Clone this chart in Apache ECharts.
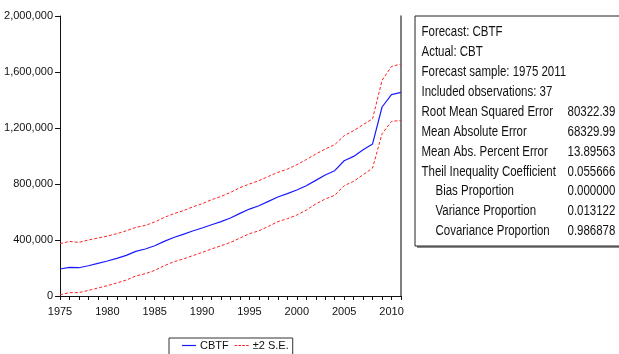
<!DOCTYPE html>
<html>
<head>
<meta charset="utf-8">
<script src="https://cdn.jsdelivr.net/npm/echarts@6/dist/echarts.min.js"></script>
<style>
  html, body { margin: 0; padding: 0; background: #fff; }
  #chart { width: 619px; height: 354px; }
</style>
</head>
<body>
<div id="chart"></div>
<script>
// Forecast of CBT (CBTF) with a +/- 2 standard error band, 1975-2011
const years = ['1975','1976','1977','1978','1979','1980','1981','1982','1983','1984',
  '1985','1986','1987','1988','1989','1990','1991','1992','1993','1994',
  '1995','1996','1997','1998','1999','2000','2001','2002','2003','2004',
  '2005','2006','2007','2008','2009','2010','2011'];

const cbtf = [193000, 204000, 202000, 216000, 233000, 250000, 269000, 290000, 319000, 336000,
  359000, 390000, 418000, 440000, 464000, 486000, 509000, 531000, 557000, 590000,
  621000, 645000, 676000, 707000, 731000, 757000, 788000, 826000, 864000, 895000,
  966000, 997000, 1045000, 1086000, 1350000, 1438000, 1455000];

const upperBand = [374000, 390000, 383000, 400000, 414000, 428000, 445000, 466000, 490000, 504000,
  529000, 561000, 588000, 609000, 636000, 659000, 688000, 711000, 740000, 774000,
  800000, 824000, 854000, 883000, 906000, 938000, 974000, 1014000, 1050000, 1081000,
  1145000, 1181000, 1224000, 1266000, 1540000, 1640000, 1657000];

const lowerBand = [9000, 24000, 24000, 40000, 57000, 74000, 93000, 114000, 143000, 159000,
  183000, 216000, 244000, 264000, 288000, 311000, 336000, 359000, 383000, 414000,
  445000, 466000, 497000, 531000, 552000, 578000, 614000, 657000, 693000, 719000,
  788000, 819000, 866000, 914000, 1159000, 1247000, 1254000];

// Forecast evaluation statistics
const statHeader = ['Forecast: CBTF', 'Actual: CBT', 'Forecast sample: 1975 2011', 'Included observations: 37'];
const statNames = ['Root Mean Squared Error', 'Mean Absolute Error', 'Mean Abs. Percent Error',
  'Theil Inequality Coefficient', 'Bias Proportion', 'Variance Proportion', 'Covariance Proportion'];
const statValues = ['80322.39', '68329.99', '13.89563', '0.055666', '0.000000', '0.013122', '0.986878'];
const statIndent = [false, false, false, false, true, true, true];

const FONT = '"Liberation Sans", Arial, sans-serif';
const NARROW = 0.82; // horizontal squeeze for the condensed panel text

function thousands(v) {
  return String(v).replace(/\B(?=(\d{3})+(?!\d))/g, ',');
}

// Statistics panel drawn as graphic elements
const panelLeft = 415, panelTop = 16, panelHeight = 230, panelWidth = 215;
const rowStart = 32, rowStep = 19.95;
const panelChildren = [
  { type: 'rect', shape: { x: panelLeft + 2, y: panelTop + 2, width: panelWidth, height: panelHeight },
    style: { fill: '#8a8a8a' }, silent: true },
  { type: 'rect', shape: { x: panelLeft, y: panelTop, width: panelWidth, height: panelHeight },
    style: { fill: '#fff', stroke: '#222', lineWidth: 1 }, silent: true }
];
const rows = [];
statHeader.forEach(t => rows.push({ name: t, value: '', indent: false }));
statNames.forEach((t, i) => rows.push({ name: t, value: statValues[i], indent: statIndent[i] }));

function panelText(str, x, y) {
  return {
    type: 'text', x: x, y: y, scaleX: NARROW, originX: 0, originY: 0,
    style: { text: str, fill: '#111', font: '14px ' + FONT, verticalAlign: 'middle', align: 'left' },
    silent: true
  };
}
rows.forEach((r, i) => {
  const y = rowStart + i * rowStep;
  panelChildren.push(panelText(r.name, r.indent ? 435.5 : 421.5, y));
  if (r.value) panelChildren.push(panelText(r.value, 567.5, y));
});

// Legend glyphs: a solid stroke and a dashed stroke
const solidIcon = 'path://M0,0h14v1.2h-14z';
const dashedIcon = 'path://M0,0h2.5v1.2h-2.5z M3.8,0h2.5v1.2h-2.5z M7.6,0h2.5v1.2h-2.5z M11.4,0h2.6v1.2h-2.6z';

const chart = echarts.init(document.getElementById('chart'), null, { renderer: 'canvas' });

chart.setOption({
  animation: false,
  backgroundColor: '#fff',
  textStyle: { fontFamily: FONT },
  grid: { left: 60, right: 218, top: 16, bottom: 58, containLabel: false },
  legend: {
    data: [{ name: 'CBTF', icon: solidIcon }, { name: '±2 S.E.', icon: dashedIcon }],
    left: 169, top: 338,
    padding: [2, 4, 4, 13],
    itemWidth: 14, itemHeight: 1.2, itemGap: 6,
    borderColor: '#333', borderWidth: 1,
    textStyle: { fontSize: 11, color: '#111', fontFamily: FONT, padding: [0, 0, 0, -1] }
  },
  xAxis: [
    {
      type: 'category', data: years, boundaryGap: false,
      axisLine: { lineStyle: { color: '#111', width: 1 } },
      axisTick: { show: true, interval: 0, length: 4, lineStyle: { color: '#111' } },
      axisLabel: {
        interval: (idx, val) => Number(val) % 5 === 0,
        color: '#111', fontSize: 11, margin: 10, fontFamily: FONT
      },
      splitLine: { show: false }
    },
    {
      type: 'category', data: years, boundaryGap: false, position: 'top',
      axisLine: { lineStyle: { color: '#111', width: 1 } },
      axisTick: { show: false }, axisLabel: { show: false }, splitLine: { show: false }
    }
  ],
  yAxis: [
    {
      type: 'value', min: 0, max: 2000000, interval: 400000,
      axisLine: { show: true, lineStyle: { color: '#111', width: 1 } },
      axisTick: { show: true, length: 5, lineStyle: { color: '#111' } },
      axisLabel: { color: '#111', fontSize: 11, margin: 7, formatter: thousands, fontFamily: FONT },
      splitLine: { show: false }
    },
    {
      type: 'value', min: 0, max: 2000000, interval: 400000, position: 'right',
      axisLine: { show: true, lineStyle: { color: '#555', width: 1.5 } },
      axisTick: { show: false }, axisLabel: { show: false }, splitLine: { show: false }
    }
  ],
  series: [
    {
      name: 'CBTF', type: 'line', data: cbtf, symbol: 'none',
      lineStyle: { color: '#1a1aff', width: 1.2 }, itemStyle: { color: '#1a1aff' }
    },
    {
      name: '±2 S.E.', type: 'line', data: upperBand, symbol: 'none',
      lineStyle: { color: '#ff2020', width: 1, type: [3, 2] }, itemStyle: { color: '#ff2020' }
    },
    {
      name: '±2 S.E.', type: 'line', data: lowerBand, symbol: 'none',
      lineStyle: { color: '#ff2020', width: 1, type: [3, 2] }, itemStyle: { color: '#ff2020' }
    }
  ],
  graphic: [{ type: 'group', children: panelChildren }]
});
</script>
</body>
</html>
